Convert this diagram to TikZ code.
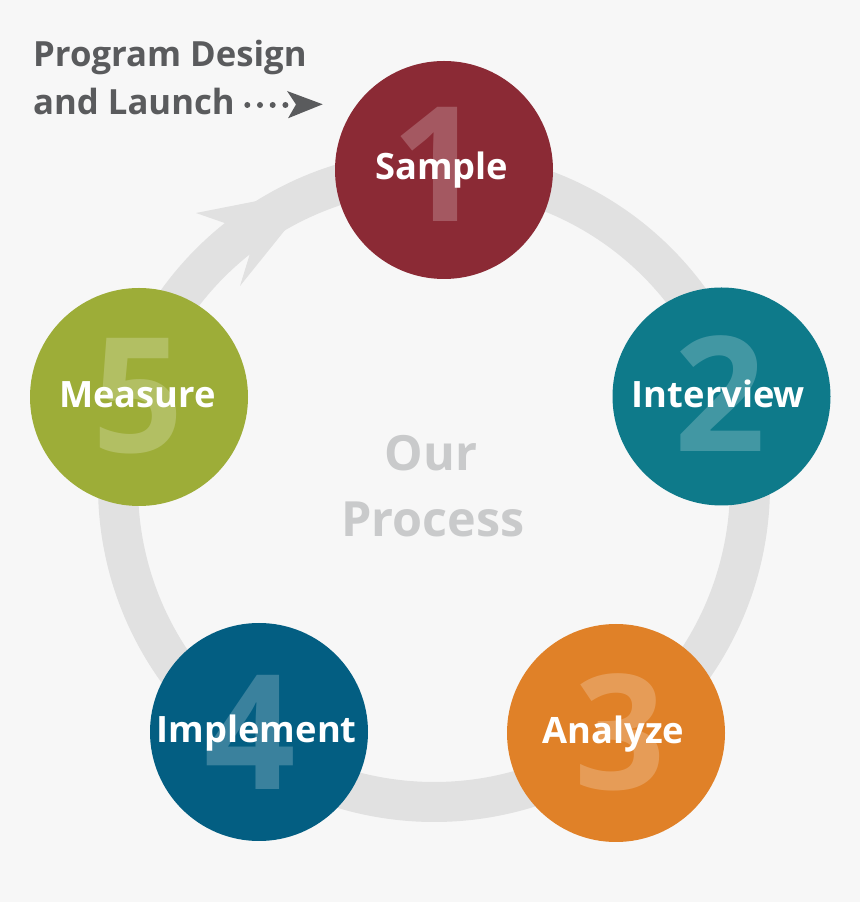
\documentclass[tikz,border=0pt]{standalone}
\usepackage{fontspec}
\setmainfont{Open Sans}
\usetikzlibrary{calc}
\definecolor{bg}{HTML}{F7F7F7}
\definecolor{ringgray}{HTML}{E1E1E1}
\definecolor{txtgray}{HTML}{5A5B5D}
\definecolor{ourgray}{HTML}{C9CACB}
\definecolor{cred}{HTML}{8B2A35}
\definecolor{cteal}{HTML}{0E7A8A}
\definecolor{corange}{HTML}{E08128}
\definecolor{cblue}{HTML}{035E82}
\definecolor{cgreen}{HTML}{9DAD38}
\begin{document}
\begin{tikzpicture}[x=1pt,y=1pt,
  stage/.style={circle, minimum size=218pt, inner sep=0pt, draw=none},
  lbl/.style={text=white, font=\fontsize{36.3}{36.3}\selectfont\bfseries, anchor=base, inner sep=0pt},
  digit/.style={text=white, text opacity=0.22, font=\fontsize{160}{160}\selectfont\bfseries, anchor=base, inner sep=0pt},
  title/.style={text=txtgray, font=\fontsize{34.7}{34.7}\selectfont\bfseries, anchor=base west, inner sep=0pt},
  center/.style={text=ourgray, font=\fontsize{48.5}{48.5}\selectfont\bfseries, anchor=base, inner sep=0pt}
  ]
\fill[bg] (0,0) rectangle (860,902);
\useasboundingbox (0,0) rectangle (860,902);
\coordinate (C) at (434,416);
% ring
\draw[ringgray, line width=40pt] ($(C)+(128.5:316pt)$) arc[start angle=128.5, end angle=-260, radius=316pt];
\fill[ringgray] (318,713) -- (196,689) -- ($(C)+(128.5:336pt)$) -- ($(C)+(128.5:296pt)$) -- (240,616) -- cycle;
% circles
\node[stage, fill=cred] (s1) at (444,732) {};
\node[stage, fill=cteal] (s2) at (721.5,505.5) {};
\node[stage, fill=corange] (s3) at (616,169) {};
\node[stage, fill=cblue] (s4) at (259,170) {};
\node[stage, fill=cgreen] (s5) at (139,505) {};
% digits
\node[digit] (n1) at (437,680) {1};
\node[digit] (n2) at (720.5,450) {2};
\node[digit] (n3) at (620,112) {3};
\node[digit] (n4) at (250,112) {4};
\node[digit] (n5) at (138.5,449) {5};
% labels
\node[lbl] (l1) at (441.7,722) {Sample};
\node[lbl] (l2) at (718.5,494.3) {Interview};
\node[lbl] (l3) at (613.3,158.7) {Analyze};
\node[lbl] (l4) at (256.7,159.3) {Implement};
\node[lbl] (l5) at (137.5,494) {Measure};
% center text
\node[center] (o1) at (431,431) {Our};
\node[center] (o2) at (433,365) {Process};
% title
\node[title] (t1) at (33,835) {Program Design};
\node[title] (t2) at (33,787) {and Launch};
\coordinate (d0) at (247.3,797);
\coordinate (d1) at (290,797);
\draw[txtgray, line width=6pt, line cap=round, dash pattern=on 0pt off 12.7pt] (d0) -- (d1);
\fill[txtgray] (322.7,797.7) -- (287,811) -- (296,797.5) -- (288,783.7) -- cycle;
\end{tikzpicture}
\end{document}
